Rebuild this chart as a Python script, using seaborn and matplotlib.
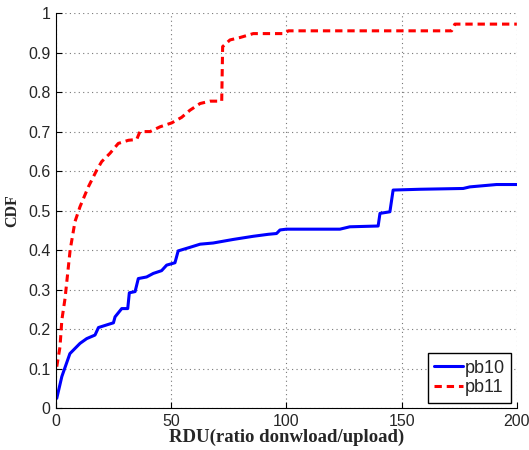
import pandas as pd
import seaborn as sns
import matplotlib.pyplot as plt

sns.set_style("ticks")
plt.rcParams['font.family'] = ['Liberation Sans', 'DejaVu Sans']

# pb10 (blue, solid)
pb10_x = [0.3, 2.5, 6, 10.4, 13.3, 16.9, 18.4, 22.7, 24.9, 25.6, 28.5, 31.1, 31.8, 34.3,
          35.7, 39.3, 42.2, 45.8, 48, 51.6, 53, 58.1, 62.5, 68.2, 76.9, 85.6, 92.1, 95.7,
          97.2, 100, 123.2, 127.5, 139.8, 140.6, 144.9, 146.3, 157.9, 176.7, 179.6, 191.2, 200]
pb10_y = [0.025, 0.08, 0.138, 0.164, 0.176, 0.185, 0.204, 0.212, 0.216, 0.231, 0.252, 0.252,
          0.292, 0.295, 0.328, 0.332, 0.341, 0.348, 0.362, 0.368, 0.398, 0.407, 0.415, 0.418,
          0.427, 0.435, 0.44, 0.442, 0.451, 0.453, 0.453, 0.459, 0.461, 0.493, 0.497, 0.552,
          0.554, 0.556, 0.56, 0.566, 0.566]

# pb11 (red, dashed)
pb11_x = [0.3, 1.7, 2.5, 3.9, 6.1, 8.2, 10.4, 14, 17.7, 19.8, 23.4, 27, 31.4, 35, 36.4, 40.8,
          45.1, 50.2, 54.5, 58.1, 62.5, 66.8, 71.9, 72.3, 75.5, 79.8, 85.6, 99.3, 100.8,
          171.7, 173.1, 200]
pb11_y = [0.105, 0.155, 0.223, 0.278, 0.4, 0.472, 0.51, 0.56, 0.603, 0.624, 0.645, 0.67,
          0.678, 0.68, 0.7, 0.7, 0.712, 0.722, 0.736, 0.754, 0.771, 0.777, 0.777, 0.915,
          0.932, 0.938, 0.948, 0.948, 0.955, 0.955, 0.972, 0.972]

df10 = pd.DataFrame({"x": pb10_x, "y": pb10_y})
df11 = pd.DataFrame({"x": pb11_x, "y": pb11_y})

fig = plt.figure(figsize=(5.29, 4.50), dpi=100)
ax = fig.add_axes([0.106, 0.093, 0.871, 0.878])

sns.lineplot(data=df10, x="x", y="y", color="blue", lw=2.2, label="pb10", ax=ax, sort=False)
sns.lineplot(data=df11, x="x", y="y", color="red", lw=2.2, label="pb11", ax=ax, sort=False)
ax.lines[1].set_dashes([2.4, 1.6])

ax.set_xlim(0, 200)
ax.set_ylim(0, 1)
ax.set_xticks([0, 50, 100, 150, 200])
ax.set_yticks([i / 10 for i in range(11)])
ax.set_yticklabels(["0", "0.1", "0.2", "0.3", "0.4", "0.5", "0.6", "0.7", "0.8", "0.9", "1"])
ax.tick_params(direction="in", labelsize=11.5, length=4, color="black", pad=4)
ax.grid(True, ls=(0, (1, 3)), color="#777777", lw=0.8)
for s in ["top", "right"]:
    ax.spines[s].set_visible(False)
for s in ["left", "bottom"]:
    ax.spines[s].set_color("black")

ax.set_xlabel("RDU(ratio donwload/upload)", family="Liberation Serif", fontweight="bold",
              fontsize=13.5, labelpad=0)
ax.set_ylabel("CDF", family="Liberation Serif", fontweight="bold", fontsize=11.5, labelpad=6)

leg = ax.legend(loc="lower right", fontsize=13, fancybox=False, framealpha=1,
                edgecolor="black", handlelength=1.6, handletextpad=0.1,
                borderpad=0.35, labelspacing=0.15, borderaxespad=0.3)
leg.get_frame().set_linewidth(1)
leg.get_lines()[1].set_dashes([2.4, 1.6])

fig.savefig("out.png", dpi=100)
